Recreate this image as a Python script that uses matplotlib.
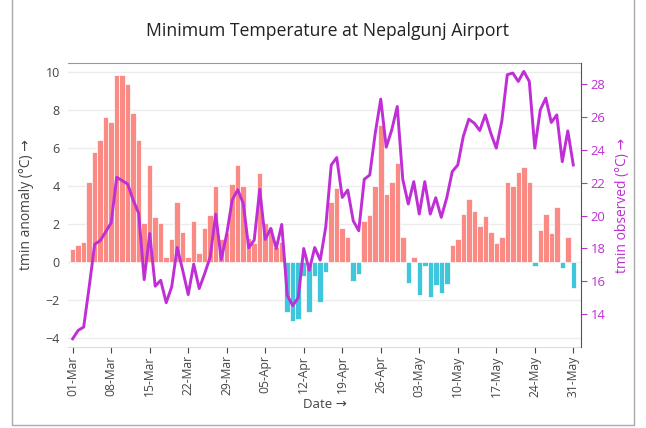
import matplotlib
matplotlib.use('Agg')
import matplotlib.pyplot as plt
import matplotlib.dates as mdates
from matplotlib.patches import Rectangle
import pandas as pd
import numpy as np

plt.rcParams['font.family'] = ['Open Sans', 'DejaVu Sans']

dates = pd.date_range('2023-03-01', '2023-05-31', freq='D')

anomaly = [0.70, 0.90, 1.09, 4.22, 5.83, 6.45, 7.64, 7.36, 9.84, 9.84,
           9.37, 7.86, 6.45, 2.09, 5.13, 2.41, 2.09, 0.30, 1.21, 3.20,
           1.58, 0.30, 2.18, 0.47, 1.83, 2.51, 4.02, 1.21, 1.53, 4.13,
           5.13, 4.02, 1.27, 1.04, 4.69, 2.09, 1.83, 0.83, 1.09, -2.60,
           -3.09, -3.00, -0.72, -2.60, -0.72, -2.09, -0.51, 3.20, 3.90, 1.83,
           1.32, -0.98, -0.60, 2.18, 2.51, 4.02, 7.22, 3.62, 4.24, 5.22,
           1.32, -1.10, 0.30, -1.72, -0.19, -1.81, -1.21, -1.60, -1.11, 0.91,
           1.21, 2.53, 3.32, 2.71, 1.93, 2.44, 1.60, 1.00, 1.32, 4.24,
           4.02, 4.73, 5.04, 4.24, -0.19, 1.70, 2.53, 1.53, 2.93, -0.30,
           1.32, -1.34]

tmin = [12.52, 13.03, 13.23, 15.67, 18.26, 18.47, 19.01, 19.56, 22.32, 22.12,
        21.91, 20.94, 20.13, 16.11, 18.91, 15.71, 16.07, 14.71, 15.67, 18.06,
        16.68, 15.20, 17.05, 15.57, 16.48, 17.49, 20.09, 17.33, 18.87, 20.94,
        21.57, 20.74, 18.04, 18.51, 21.59, 18.55, 19.22, 18.00, 19.46, 15.16,
        14.53, 15.02, 18.00, 16.68, 18.06, 17.29, 19.30, 23.07, 23.52, 21.10,
        21.55, 19.68, 19.08, 22.20, 22.46, 25.00, 27.07, 24.15, 25.20, 26.62,
        22.20, 20.70, 22.06, 20.09, 22.06, 20.09, 21.08, 19.89, 21.08, 22.67,
        23.07, 24.80, 25.85, 25.61, 25.16, 26.11, 25.00, 24.09, 25.71, 28.55,
        28.65, 28.14, 28.75, 28.14, 24.09, 26.42, 27.13, 25.65, 26.11, 23.27,
        25.14, 23.07]

left_ticks = [-4, -2, 0, 2, 4, 6, 8, 10]
right_ticks = [14, 16, 18, 20, 22, 24, 26, 28]

W, H = 646, 428
fig = plt.figure(figsize=(W / 100, H / 100), dpi=100)
ax = fig.add_axes([68 / W, 1 - 347 / H, (581 - 68) / W, (347 - 63) / H])

anom = np.array(anomaly)
colors = np.where(anom >= 0, '#f98a84', '#3ec6dc')
ax.bar(dates, anom, width=1.0, color=colors, edgecolor='white', linewidth=0.5, zorder=2)

ax.set_ylim(-4.45, 10.49)
ax.set_yticks(left_ticks)
ax.grid(axis='y', color='#ececec', linewidth=1, zorder=0)
ax.set_axisbelow(True)
x0 = dates[0]
ax.set_xlim(x0 - pd.Timedelta(days=0.85), x0 + pd.Timedelta(days=92.4))
ax.set_xticks(dates[::7])
ax.xaxis.set_major_formatter(mdates.DateFormatter('%d-%b'))
ax.tick_params(axis='x', labelrotation=90, labelsize=8.7, colors='#444444', length=4, width=0.8, pad=2)
ax.tick_params(axis='y', labelsize=9, colors='#444444', length=0, pad=6)

ax.spines['left'].set_visible(False)
ax.spines['top'].set_color('#999999')
ax.spines['bottom'].set_color('#dddddd')
ax.spines['right'].set_visible(False)

ax.set_ylabel('tmin anomaly (°C) \u2192', fontsize=10, color='#444444', labelpad=8)
ax.set_xlabel('Date \u2192', fontsize=9.5, color='#444444', labelpad=1)

ax2 = ax.twinx()
line_color = '#c02ed6'
ax2.plot(dates, tmin, color=line_color, linewidth=2.1, zorder=3, solid_joinstyle='round')
ax2.set_ylim(12.02, 29.26)
ax2.set_yticks(right_ticks)
ax2.tick_params(axis='y', labelsize=9.4, colors=line_color, length=4, width=0.8, pad=3)
ax2.spines['right'].set_color('#555555')
ax2.spines['left'].set_visible(False)
ax2.spines['top'].set_visible(False)
ax2.spines['bottom'].set_visible(False)
ax2.set_ylabel('tmin observed (°C) \u2192', fontsize=10, color=line_color, rotation=90, labelpad=7)

fig.text(327 / W, 1 - 31 / H, 'Minimum Temperature at Nepalgunj Airport', ha='center', va='center',
         fontsize=12.7, color='#222222')

fig.add_artist(Rectangle((12 / W, 3 / H), 622 / W, 1.2, transform=fig.transFigure,
                         fill=False, edgecolor='#aaaaaa', linewidth=1))

fig.savefig('out.png', dpi=100)
